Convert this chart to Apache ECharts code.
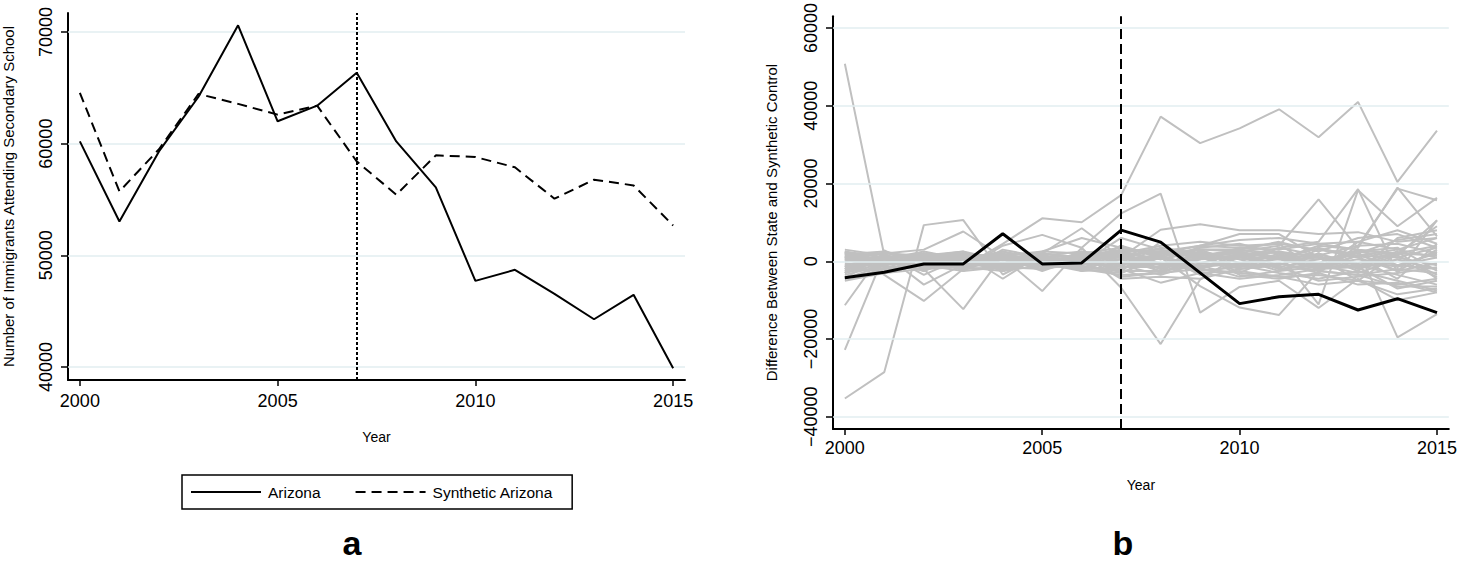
<!DOCTYPE html>
<html>
<head>
<meta charset="utf-8">
<script src="https://cdn.jsdelivr.net/npm/echarts@6/dist/echarts.min.js"></script>
<style>
html,body{margin:0;padding:0;background:#fff;}
#main{width:1460px;height:563px;}
</style>
</head>
<body>
<div id="main"></div>
<script>
// ---------------- DATA ----------------
const years = [2000,2001,2002,2003,2004,2005,2006,2007,2008,2009,2010,2011,2012,2013,2014,2015];
const xTicks = [2000, 2005, 2010, 2015];
const leftYTicks = [40000, 50000, 60000, 70000];
const rightYTicks = [-40000, -20000, 0, 20000, 40000, 60000];
const treatmentYear = 2007;

const arizona = [60200,53030,59300,64200,70600,62000,63400,66340,60200,56080,47710,48700,46550,44270,46460,39880];
const syntheticArizona = [64550,55720,59500,64450,63560,62600,63400,58410,55430,58950,58800,57880,55070,56770,56260,52670];

// Gap Arizona - synthetic Arizona (panel b, black line)
const arizonaGap = [-4260,-2810,-680,-680,7070,-680,-430,8000,4930,-2980,-10890,-9110,-8510,-12530,-9620,-13200];

// Placebo gaps for control states (panel b, gray lines)
const placeboGaps = [
  [50800,1500,-1200,800,1500,-500,300,1200,-800,1500,2200,800,-1500,2500,1000,3500],
  [-35300,-28500,9300,10600,-3400,1500,-1000,3000,2500,4000,5500,6000,4500,3000,2000,4000],
  [-22800,1800,-6000,-800,2500,700,-1500,-2000,1000,-3000,-2500,-4000,-6000,-5000,-8500,-7000],
  [-11300,2800,-2000,-12300,1500,2500,6000,3500,1500,3000,3000,1000,-2000,5000,8000,4500],
  [1200,500,1800,-1500,4500,11050,10030,17000,37200,30400,34200,39100,31900,41000,20400,33600],
  [2500,-3500,-10200,-2000,4000,6800,3500,12300,17400,-13200,-6600,-5000,-12000,-4500,-10000,-8000],
  [1000,2000,3000,7660,1000,-7660,3500,-6800,-21300,-4700,1500,500,-2000,1500,-1000,2000],
  [-2000,1000,1500,2000,-4500,2000,8500,1000,8100,9500,8000,8000,7000,7500,5000,6000],
  [-3000,-500,1000,-2000,800,1500,-2000,-3000,1000,-6400,-11900,-13800,-2500,3000,-19580,-13600],
  [500,1000,-1500,500,-1000,1000,1500,2000,500,3000,2500,4000,15900,3400,18970,6400],
  [-1500,500,2000,1000,500,-500,800,-1000,2000,1500,3000,2000,-11100,18300,9000,16300],
  [2000,-1000,500,1500,-500,1200,-800,4000,1000,-2000,1000,3500,5000,18560,-3000,10600],
  [-4500,2000,-3500,1000,-2500,700,-300,-4000,-3000,1500,-3500,-4500,-3000,4000,18700,15700],
  [-1000,-3000,1000,-1500,2000,-1000,1500,2500,-2000,4000,7000,7000,1000,-5000,2000,9000],
  [2500,1000,2000,1500,500,1000,1500,3000,2000,4000,3500,3000,4500,5000,3000,6000],
  [-5000,-3000,-2000,-1500,-2500,-1000,-2000,-3500,-3000,-2000,-3000,-4000,-3500,-5000,-6000,-4500],
  [1800,2500,500,1000,1500,2000,1000,500,3500,2000,1500,2500,1000,-1000,2000,1500],
  [-3500,-1000,1500,-500,-1500,500,-500,-1500,-500,-2500,-1500,-500,-2500,-3500,-2000,-3000],
  [1000,-500,-1000,2000,1000,-500,1000,2000,4000,5000,4000,4500,3000,2000,5500,7000],
  [-2500,1500,500,-1000,-500,1500,2500,1000,-1000,500,1000,-1500,500,1500,1000,-1000],
  [500,-2000,-500,500,2000,-1500,-1000,500,1500,-1500,-500,1500,-1000,500,-1500,2500],
  [-1500,500,2500,500,-1000,1000,500,-500,-1500,1000,-2000,-1000,2000,-2000,500,-2000],
  [3000,1500,-1500,-500,500,-2000,1500,2500,500,2500,500,1000,-500,3000,-1000,1000],
  [-4000,-2500,-500,1500,-2000,500,-1500,-2500,-2500,-1000,-4000,-2500,-1500,-1000,-3500,-6000],
  [0,1000,1000,-1500,1500,0,500,-2000,2500,1500,2500,500,3500,1000,-2500,-500],
  [-500,-1500,-2000,500,-500,-500,-2500,1500,-500,-1500,1500,-2000,-500,-1500,1500,-3500],
  [1500,2000,1500,2500,200,2500,2000,3500,1000,3500,4500,2000,1500,4000,4500,2000],
  [-3000,500,-1000,-2500,-1500,-2000,-500,-1000,-3500,-500,-1000,-3000,-4500,-2500,-5000,-7500],
  [2200,-1000,1500,1000,-2500,1500,-2000,2500,3000,500,3000,5000,2500,6000,7000,3500],
  [-1000,1200,-1500,-1000,1000,-2500,1000,-3000,1500,-3500,-500,-1500,-5000,-4000,-3000,-1500],
  [500,-1000,2000,-2500,3000,1000,-1000,4000,-1000,2000,-3000,1500,1000,-500,2500,-4500],
  [-2000,2500,-500,2000,-1000,2000,1000,-2500,5000,-2000,2000,-1000,3000,1000,-4500,4500],
  [1200,-2500,1000,500,2500,-1000,2500,1000,-2000,1000,1000,2500,-1500,2500,3500,-2500],
  [-4500,-1000,500,-2000,500,-500,1500,-4500,-4000,-4500,-2000,-500,-3000,-6000,-5500,-8000],
  [2000,500,-2500,1500,1500,500,-500,6000,3000,1000,-1500,3500,1500,-2500,6000,8000],
  [-2500,-2000,2000,-500,-2000,1500,-2500,-2000,-5500,-3000,-4500,-3500,-2000,-1500,-7000,-5000],
  [800,2200,0,-1000,1200,-1500,2000,-500,2000,3000,-500,500,4000,3000,1500,10500],
  [-1200,-2800,1200,2500,-1500,1000,-1000,3000,-3000,500,3500,4500,-2500,-3500,-6500,-6500],
  [1500,-1500,-1000,1000,-1000,1000,-1500,500,-2500,2000,500,-2500,2000,-1000,-1000,-2000],
  [-2000,0,500,-1000,1000,-1000,0,-500,1000,-1000,-1000,2000,-1500,1500,3000,1000],
  [2500,-500,1500,-2000,-1500,2000,500,1500,2500,-500,2000,-2000,-1000,-3000,500,-4000],
  [-3000,1500,-2500,2000,500,-1500,2000,-1500,-1500,2500,-1500,1000,500,2000,-2500,3000]
];

// ---------------- CHART ----------------
const FONT = "'Liberation Sans', Arial, Helvetica, sans-serif";
const pairs = vals => years.map((y, i) => [y, vals[i]]);
const gridColor = '#e2eef0';

function xAxisCfg(gridIndex, labelMargin, nameGap) {
  return {
    type: 'value', gridIndex: gridIndex, min: 1999.7, max: 2015.3,
    name: 'Year', nameLocation: 'middle', nameGap: nameGap,
    nameTextStyle: {fontFamily: FONT, fontSize: 14, color: '#000'},
    axisLine: {show: true, onZero: false, lineStyle: {color: '#000', width: 2}},
    axisTick: {show: true, length: 6, lineStyle: {color: '#000', width: 1.5}, customValues: xTicks},
    axisLabel: {fontFamily: FONT, fontSize: 18, color: '#000', margin: labelMargin, customValues: xTicks,
                formatter: v => String(v)},
    splitLine: {show: false}
  };
}
function yAxisCfg(gridIndex, min, max, ticks, name, nameGap) {
  return {
    type: 'value', gridIndex: gridIndex, min: min, max: max,
    name: name, nameLocation: 'middle', nameGap: nameGap, nameRotate: 90,
    nameTextStyle: {fontFamily: FONT, fontSize: 15, color: '#000'},
    axisLine: {show: true, onZero: false, lineStyle: {color: '#000', width: 2}},
    axisTick: {show: true, length: 7, lineStyle: {color: '#000', width: 1.5}, customValues: ticks},
    axisLabel: {fontFamily: FONT, fontSize: 18, color: '#000', rotate: 90, margin: 13, customValues: ticks,
                formatter: v => (v < 0 ? '\u2212' + Math.abs(v) : String(v))},
    splitLine: {show: false}
  };
}

const series = [];
// grid lines drawn as horizontal mark lines at the tick values
function gridLines(xi, yi, ticks) {
  return {
    type: 'line', xAxisIndex: xi, yAxisIndex: yi, data: [], silent: true, z: 1,
    markLine: {symbol: 'none', silent: true, label: {show: false},
      lineStyle: {color: gridColor, width: 1.5, type: 'solid'},
      data: ticks.map(t => ({yAxis: t}))}
  };
}
series.push(gridLines(0, 0, leftYTicks));
series.push(gridLines(1, 1, rightYTicks));

series.push({
  name: 'Arizona', type: 'line', xAxisIndex: 0, yAxisIndex: 0, data: pairs(arizona),
  symbol: 'none', lineStyle: {color: '#000', width: 2, type: 'solid'}, itemStyle: {color: '#000'}, z: 5,
  markLine: {symbol: 'none', silent: true, label: {show: false},
    lineStyle: {color: '#000', width: 2, type: [3, 2]}, data: [{xAxis: treatmentYear}]}
});
series.push({
  name: 'Synthetic Arizona', type: 'line', xAxisIndex: 0, yAxisIndex: 0, data: pairs(syntheticArizona),
  symbol: 'none', lineStyle: {color: '#000', width: 2, type: [10, 6]}, itemStyle: {color: '#000'}, z: 5
});

placeboGaps.forEach((g, i) => {
  series.push({
    name: 'placebo' + i, type: 'line', xAxisIndex: 1, yAxisIndex: 1, data: pairs(g),
    symbol: 'none', lineStyle: {color: '#c0c0c0', width: 2}, itemStyle: {color: '#c0c0c0'}, z: 3, silent: true
  });
});
series.push({
  name: 'Arizona gap', type: 'line', xAxisIndex: 1, yAxisIndex: 1, data: pairs(arizonaGap),
  symbol: 'none', lineStyle: {color: '#000', width: 3}, itemStyle: {color: '#000'}, z: 6,
  markLine: {symbol: 'none', silent: true, label: {show: false},
    lineStyle: {color: '#000', width: 2, type: [10, 5]}, data: [{xAxis: treatmentYear}]}
});

const option = {
  animation: false,
  backgroundColor: '#fff',
  textStyle: {fontFamily: FONT},
  grid: [
    {left: 67, top: 13, right: 775, bottom: 183, containLabel: false},
    {left: 833, top: 13, right: 8, bottom: 134, containLabel: false}
  ],
  xAxis: [xAxisCfg(0, 12, 50), xAxisCfg(1, 10, 49)],
  yAxis: [
    yAxisCfg(0, 38830, 71700, leftYTicks, 'Number of Immigrants Attending Secondary School', 52),
    yAxisCfg(1, -43140, 63060, rightYTicks, 'Difference Between State and Synthetic Control', 54)
  ],
  legend: {
    data: ['Arizona', 'Synthetic Arizona'],
    left: 182, top: 475,
    orient: 'horizontal',
    itemWidth: 70, itemHeight: 14, itemGap: 34,
    padding: [9, 19, 9, 8],
    borderColor: '#000', borderWidth: 1.5, borderRadius: 0,
    itemStyle: {opacity: 0, borderWidth: 0},
    textStyle: {fontFamily: FONT, fontSize: 15.5, color: '#000', padding: [0, 0, 0, 2]}
  },
  graphic: [
    {type: 'text', x: 352, y: 543, style: {text: 'a', font: 'bold 34px ' + FONT, fill: '#000', textAlign: 'center', textVerticalAlign: 'middle'}},
    {type: 'text', x: 1123, y: 543, style: {text: 'b', font: 'bold 34px ' + FONT, fill: '#000', textAlign: 'center', textVerticalAlign: 'middle'}}
  ],
  series: series
};

const chart = echarts.init(document.getElementById('main'), null, {renderer: 'svg'});
chart.setOption(option);
</script>
</body>
</html>
